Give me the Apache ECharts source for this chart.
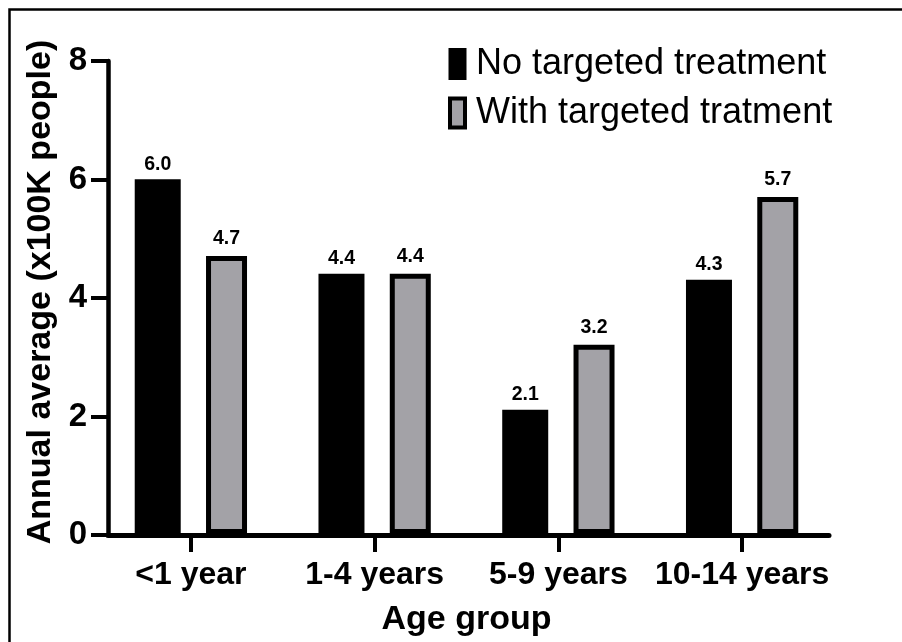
<!DOCTYPE html>
<html>
<head>
<meta charset="utf-8">
<script src="https://cdn.jsdelivr.net/npm/echarts@6/dist/echarts.min.js"></script>
<style>
html,body{margin:0;padding:0;background:#fff;}
#chart{width:902px;height:642px;}
</style>
</head>
<body>
<div id="chart"></div>
<script>
const categories = ['<1 year', '1-4 years', '5-9 years', '10-14 years'];
const noTreatment = [6.0, 4.4, 2.1, 4.3];
const withTreatment = [4.7, 4.4, 3.2, 5.7];
const seriesNames = ['No targeted treatment', 'With targeted tratment'];
const yTicks = [0, 2, 4, 6, 8];

const FONT = '"Liberation Sans", Arial, Helvetica, sans-serif';
const GRAY = '#a3a2a7';

const chart = echarts.init(document.getElementById('chart'), null, {renderer: 'canvas'});
const option = {
  animation: false,
  backgroundColor: '#fff',
  textStyle: {fontFamily: FONT, color: '#000'},
  graphic: [{
    type: 'rect', silent: true, z: -1,
    shape: {x: 9.5, y: 9.5, width: 900, height: 640},
    style: {fill: 'none', stroke: '#000', lineWidth: 2.5}
  }],
  legend: {
    orient: 'vertical',
    left: 443, top: 40,
    itemWidth: 15, itemHeight: 29,
    itemGap: 11,
    textStyle: {fontFamily: FONT, fontSize: 36, color: '#000', lineHeight: 38, padding: [0, 0, 0, 6]},
    data: [
      {name: seriesNames[0], icon: 'rect', itemStyle: {color: '#000', borderColor: '#000', borderWidth: 3}},
      {name: seriesNames[1], icon: 'rect', itemStyle: {color: GRAY, borderColor: '#000', borderWidth: 4}}
    ]
  },
  grid: [
    {left: 99, width: 735, top: 61, height: 474, containLabel: false},
    {left: 108, width: 721, top: 61, height: 474, containLabel: false}
  ],
  xAxis: [
    {
      type: 'category', gridIndex: 0, data: categories,
      axisLine: {show: false},
      axisTick: {show: true, alignWithLabel: true, length: 18, lineStyle: {color: '#000', width: 4}},
      axisLabel: {margin: 25, fontFamily: FONT, fontSize: 32, fontWeight: 'bold', color: '#000', interval: 0},
      name: 'Age group', nameLocation: 'middle', nameGap: 69,
      nameTextStyle: {fontFamily: FONT, fontSize: 34, fontWeight: 'bold', color: '#000'},
      splitLine: {show: false}
    },
    {
      type: 'value', gridIndex: 1, min: 0, max: 1,
      axisLine: {show: true, lineStyle: {color: '#000', width: 5}},
      axisTick: {show: false}, axisLabel: {show: false}, splitLine: {show: false}
    }
  ],
  yAxis: [
    {
      type: 'value', gridIndex: 0, min: 0, max: 8, interval: 2, show: false
    },
    {
      type: 'value', gridIndex: 1, min: yTicks[0], max: yTicks[yTicks.length - 1], interval: 2,
      axisLine: {show: true, lineStyle: {color: '#000', width: 4.5}},
      axisTick: {show: true, length: 17, lineStyle: {color: '#000', width: 4}},
      axisLabel: {margin: 21, fontFamily: FONT, fontSize: 33, fontWeight: 'bold', color: '#000'},
      splitLine: {show: false},
      name: 'Annual average (x100K people)', nameLocation: 'middle', nameGap: 46,
      nameTextStyle: {fontFamily: FONT, fontSize: 34, fontWeight: 'bold', color: '#000', padding: [0, 0, 0, 12]}
    }
  ],
  series: [
    {
      name: seriesNames[0], type: 'bar', xAxisIndex: 0, yAxisIndex: 0,
      data: noTreatment, barWidth: 46, barGap: '55%',
      itemStyle: {color: '#000'},
      label: {show: true, position: 'top', distance: 5, formatter: p => p.value.toFixed(1),
        fontFamily: FONT, fontSize: 19.5, fontWeight: 'bold', color: '#000'}
    },
    {
      name: seriesNames[1], type: 'bar', xAxisIndex: 0, yAxisIndex: 0,
      data: withTreatment, barWidth: 41, barGap: '55%',
      itemStyle: {color: GRAY, borderColor: '#000', borderWidth: 5},
      label: {show: true, position: 'top', distance: 7, formatter: p => p.value.toFixed(1),
        fontFamily: FONT, fontSize: 19.5, fontWeight: 'bold', color: '#000'}
    }
  ]
};
chart.setOption(option);
</script>
</body>
</html>
